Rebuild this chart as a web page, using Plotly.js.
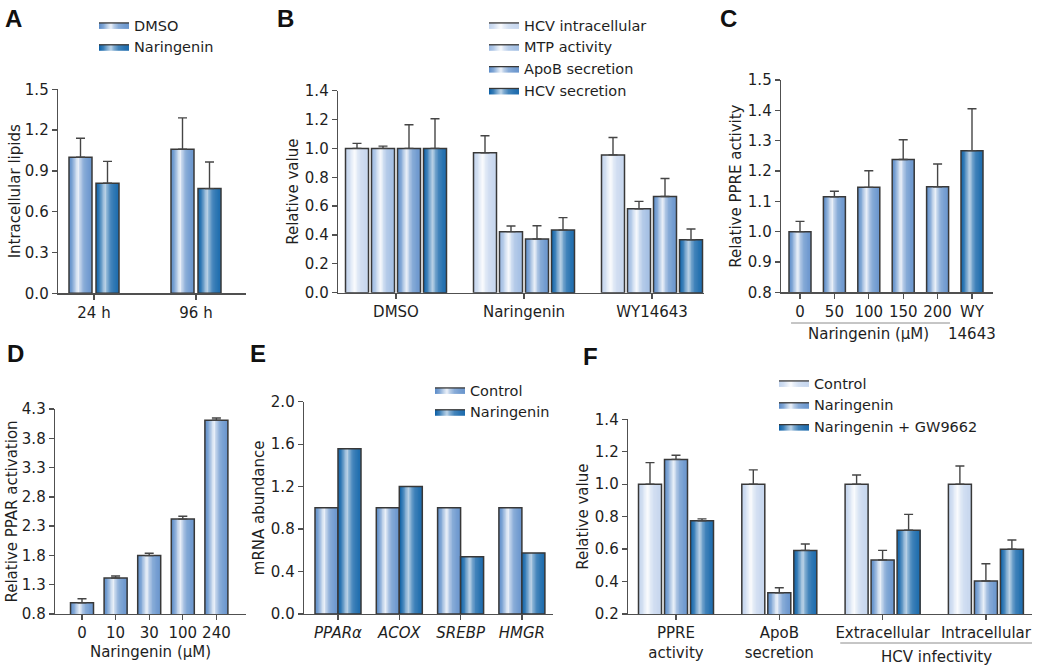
<!DOCTYPE html>
<html><head><meta charset="utf-8">
<script src="https://cdn.plot.ly/plotly-3.0.1.min.js"></script>
<style>html,body{margin:0;padding:0;background:#fff}</style>
</head><body><div id="chart" style="width:1050px;height:667px"></div>
<script>
// ---------------- DATA ----------------
// Panel A
const catsA = ['24 h', '96 h'];
const valA_DMSO = [1.00, 1.06];
const errA_DMSO = [0.14, 0.23];
const valA_Nar = [0.81, 0.77];
const errA_Nar = [0.16, 0.195];
// Panel B
const catsB = ['DMSO', 'Naringenin', 'WY14643'];
const valB_HCVin = [1.00, 0.97, 0.955];
const errB_HCVin = [0.035, 0.118, 0.121];
const valB_MTP = [1.00, 0.423, 0.582];
const errB_MTP = [0.016, 0.039, 0.051];
const valB_ApoB = [1.00, 0.372, 0.667];
const errB_ApoB = [0.164, 0.092, 0.125];
const valB_HCVsec = [1.00, 0.434, 0.367];
const errB_HCVsec = [0.206, 0.086, 0.074];
// Panel C
const catsC = ['0', '50', '100', '150', '200', 'WY'];
const valC = [1.00, 1.115, 1.146, 1.238, 1.148, 1.267];
const errC = [0.034, 0.018, 0.055, 0.065, 0.075, 0.138];
// Panel D
const catsD = ['0', '10', '30', '100', '240'];
const valD = [0.993, 1.415, 1.797, 2.42, 4.107];
const errD = [0.067, 0.035, 0.039, 0.05, 0.04];
// Panel E
const catsE = ['<i>PPARα</i>', '<i>ACOX</i>', '<i>SREBP</i>', '<i>HMGR</i>'];
const valE_Ctrl = [1.0, 1.0, 1.0, 1.0];
const valE_Nar = [1.557, 1.20, 0.54, 0.575];
// Panel F
const catsF = ['PPRE<br>activity', 'ApoB<br>secretion', 'Extracellular', 'Intracellular'];
const valF_Ctrl = [1.0, 1.0, 1.0, 1.0];
const errF_Ctrl = [0.133, 0.088, 0.057, 0.112];
const valF_Nar = [1.153, 0.331, 0.533, 0.403];
const errF_Nar = [0.025, 0.031, 0.059, 0.107];
const valF_GW = [0.775, 0.592, 0.716, 0.599];
const errF_GW = [0.011, 0.039, 0.098, 0.057];

// ---------------- STYLE ----------------
const W = 1050, H = 667;
const FONT = 'DejaVu Sans, Liberation Sans, Arial, sans-serif';
const INK = '#1e1e1e';
const AXC = '#505050';
const OUTLINE = '#383838';
const BASES = {pale: '#c0d2ec', light: '#98b7e0', mid: '#5a8bc8', dark: '#0a5fa6'};
const HLSCALE = {pale: 1, light: 1, mid: 0.95, dark: 0.78};
const PROFILE = [[0,0.0],[0.15,0.25],[0.32,0.75],[0.4,0.93],[0.5,0.6],[0.65,0.3],[0.85,0.16],[1,0.1]];
const NS = 16;
const TICK_SIZE = 15, TITLE_SIZE = 15, LEG_SIZE = 14.5;

function rgb(h){h=h.replace('#','');return [0,2,4].map(i=>parseInt(h.substr(i,2),16));}
function hl(t){
  for(let i=1;i<PROFILE.length;i++){
    if(t<=PROFILE[i][0]){const a=PROFILE[i-1],b=PROFILE[i];const f=(t-a[0])/(b[0]-a[0]);return a[1]+f*(b[1]-a[1]);}
  }
  return PROFILE[PROFILE.length-1][1];
}
function shade(name,t){
  const c=rgb(BASES[name]);const m=hl(t)*HLSCALE[name];
  const r=c.map(v=>Math.round(v+(255-v)*m));
  return 'rgb('+r.join(',')+')';
}
function scaleFor(name){const s=[];for(let i=0;i<=20;i++){const t=i/20;s.push([t,shade(name,t)]);}return s;}

// panel geometry (pixels)
const geo = {
  A:{x:[58,246], y:[89.3,293.3], t0:94, sp:102, bw:23, slot:27},
  B:{x:[338,704], y:[90.7,292.7], t0:396, sp:128, bw:23, slot:26},
  C:{x:[781,993], y:[80,292.3], t0:800, sp:34.4, bw:22, slot:0},
  D:{x:[55,246], y:[409,614], t0:82, sp:33.6, bw:23, slot:0},
  E:{x:[304,553], y:[401.7,614], t0:338, sp:61.3, bw:23, slot:23},
  F:{x:[628,1032], y:[419.3,614], t0:676, sp:103.3, bw:23, slot:26}
};

const traces = [];
const layout = {
  width: W, height: H, margin:{l:0,r:0,t:0,b:0},
  paper_bgcolor:'#fff', plot_bgcolor:'rgba(0,0,0,0)',
  barmode:'overlay', showlegend:true,
  font:{family:FONT, size:TICK_SIZE, color:INK},
  annotations:[], shapes:[]
};

function axisCommon(){
  return {showgrid:false, zeroline:false, showline:true, linecolor:AXC, linewidth:1.3,
    ticks:'outside', ticklen:5, tickwidth:1.3, tickcolor:AXC, automargin:false, fixedrange:true,
    tickfont:{family:FONT, size:TICK_SIZE, color:INK}};
}

function addPanel(idx, g, cats, series, yopt, xopt){
  const sfx = idx===1 ? '' : String(idx);
  const xa='x'+sfx, ya='y'+sfx;
  const n = series.length;
  const w = g.bw/g.sp;
  const xs = cats.map((c,i)=>i);
  series.forEach((s,k)=>{
    const center = ((k-(n-1)/2)*g.slot)/g.sp;
    const off0 = center - w/2;
    const cols = Array.isArray(s.color) ? s.color : cats.map(()=>s.color);
    for(let j=0;j<NS;j++){
      const t=(j+0.5)/NS;
      traces.push({type:'bar', x:xs, y:s.vals, xaxis:xa, yaxis:ya,
        offset: off0 + j*w/NS, width: w - j*w/NS,
        marker:{color: cols.map(c=>shade(c,t)), line:{width:0}},
        showlegend:false, hoverinfo:'skip'});
    }
    const outline = {type:'bar', x:xs, y:s.vals, xaxis:xa, yaxis:ya, offset:off0, width:w,
      marker:{color:'rgba(0,0,0,0)', line:{color:OUTLINE, width:1.5}},
      showlegend:false, name:s.name, hoverinfo:'skip'};
    if(s.err){
      outline.error_y = {type:'data', symmetric:false, array:s.err, arrayminus:s.err.map(()=>0),
        color:'#454545', thickness:1.4, width:4.5};
    }
    traces.push(outline);
    if(s.legend){
      traces.push({type:'scatter', x:[null], y:[null], xaxis:xa, yaxis:ya, mode:'lines',
        fill:'toself', line:{color:OUTLINE, width:1.3},
        fillgradient:{type:'horizontal', colorscale: scaleFor(cols[0])},
        name:s.name, legend:s.legend, showlegend:true, hoverinfo:'skip'});
    }
  });
  const xk='xaxis'+sfx, yk='yaxis'+sfx;
  layout[xk] = Object.assign(axisCommon(), {
    domain:[g.x[0]/W, g.x[1]/W], anchor:ya,
    range:[(g.x[0]-g.t0)/g.sp, (g.x[1]-g.t0)/g.sp],
    tickmode:'array', tickvals:xs, ticktext:cats
  }, xopt||{});
  layout[yk] = Object.assign(axisCommon(), {
    domain:[1-g.y[1]/H, 1-g.y[0]/H], anchor:xa,
    tickmode:'linear', tickformat:'.1f'
  }, yopt);
}

function ytitle(text, so){ return {text:text, font:{family:FONT, size:TITLE_SIZE, color:INK}, standoff:so}; }

addPanel(1, geo.A, catsA, [
  {name:'DMSO', vals:valA_DMSO, err:errA_DMSO, color:'mid', legend:'legend'},
  {name:'Naringenin', vals:valA_Nar, err:errA_Nar, color:'dark', legend:'legend'}
], {range:[0,1.5], tick0:0, dtick:0.3, title:ytitle('Intracellular lipids', 0)});

addPanel(2, geo.B, catsB, [
  {name:'HCV intracellular', vals:valB_HCVin, err:errB_HCVin, color:'pale', legend:'legend2'},
  {name:'MTP activity', vals:valB_MTP, err:errB_MTP, color:'light', legend:'legend2'},
  {name:'ApoB secretion', vals:valB_ApoB, err:errB_ApoB, color:'mid', legend:'legend2'},
  {name:'HCV secretion', vals:valB_HCVsec, err:errB_HCVsec, color:'dark', legend:'legend2'}
], {range:[0,1.4], tick0:0, dtick:0.2, title:ytitle('Relative value', 2)});

addPanel(3, geo.C, catsC, [
  {name:'PPRE', vals:valC, err:errC, color:['mid','mid','mid','mid','mid','dark']}
], {range:[0.8,1.5], tick0:0.8, dtick:0.1, title:ytitle('Relative PPRE activity', 2)});

addPanel(4, geo.D, catsD, [
  {name:'PPAR', vals:valD, err:errD, color:'mid'}
], {range:[0.8,4.3], tick0:0.8, dtick:0.5, title:ytitle('Relative PPAR activation', 0)},
   {title:{text:'Naringenin (μM)', font:{family:FONT, size:TICK_SIZE, color:INK}, standoff:5}});

addPanel(5, geo.E, catsE, [
  {name:'Control', vals:valE_Ctrl, color:'mid', legend:'legend3'},
  {name:'Naringenin', vals:valE_Nar, color:'dark', legend:'legend3'}
], {range:[0,2.0], tick0:0, dtick:0.4, title:ytitle('mRNA abundance', 2)});

addPanel(6, geo.F, catsF, [
  {name:'Control', vals:valF_Ctrl, err:errF_Ctrl, color:'pale', legend:'legend4'},
  {name:'Naringenin', vals:valF_Nar, err:errF_Nar, color:'mid', legend:'legend4'},
  {name:'Naringenin + GW9662', vals:valF_GW, err:errF_GW, color:'dark', legend:'legend4'}
], {range:[0.2,1.4], tick0:0.2, dtick:0.2, title:ytitle('Relative value', 2)});

// legends
function legendAt(px, py){
  return {x:px/W, y:1-py/H, xanchor:'left', yanchor:'top', bgcolor:'rgba(0,0,0,0)', borderwidth:0,
    font:{family:FONT, size:LEG_SIZE, color:INK}, tracegroupgap:0, itemclick:false, itemdoubleclick:false, traceorder:'normal'};
}
layout.legend = legendAt(94, 9);
layout.legend2 = legendAt(484, 9);
layout.legend3 = legendAt(430, 374);
layout.legend4 = legendAt(774, 367);

// panel letters
[['A',13,18],['B',285,18],['C',728,18],['D',15,353],['E',258,353],['F',590,357]].forEach(p=>{
  layout.annotations.push({text:'<b>'+p[0]+'</b>', xref:'paper', yref:'paper', x:p[1]/W, y:1-p[2]/H,
    xanchor:'center', yanchor:'middle', showarrow:false, font:{family:'Liberation Sans, Arial, sans-serif', size:24, color:'#111'}});
});
// group labels
const SUBF = {family:FONT, size:TICK_SIZE, color:INK};
layout.annotations.push({text:'Naringenin (μM)', xref:'x3', yref:'paper', x:2, y:1-334/H, xanchor:'center', yanchor:'middle', showarrow:false, font:SUBF});
layout.annotations.push({text:'14643', xref:'x3', yref:'paper', x:5, y:1-334/H, xanchor:'center', yanchor:'middle', showarrow:false, font:SUBF});
layout.annotations.push({text:'HCV infectivity', xref:'x6', yref:'paper', x:2.52, y:1-657/H, xanchor:'center', yanchor:'middle', showarrow:false, font:SUBF});
layout.shapes.push({type:'line', xref:'x3', yref:'paper', x0:-0.26, x1:4.36, y0:1-323/H, y1:1-323/H, line:{color:'#8c8c8c', width:1}});
layout.shapes.push({type:'line', xref:'x6', yref:'paper', x0:1.59, x1:3.45, y0:1-643/H, y1:1-643/H, line:{color:'#8c8c8c', width:1}});

Plotly.newPlot('chart', traces, layout, {displayModeBar:false, staticPlot:true});
</script></body></html>
